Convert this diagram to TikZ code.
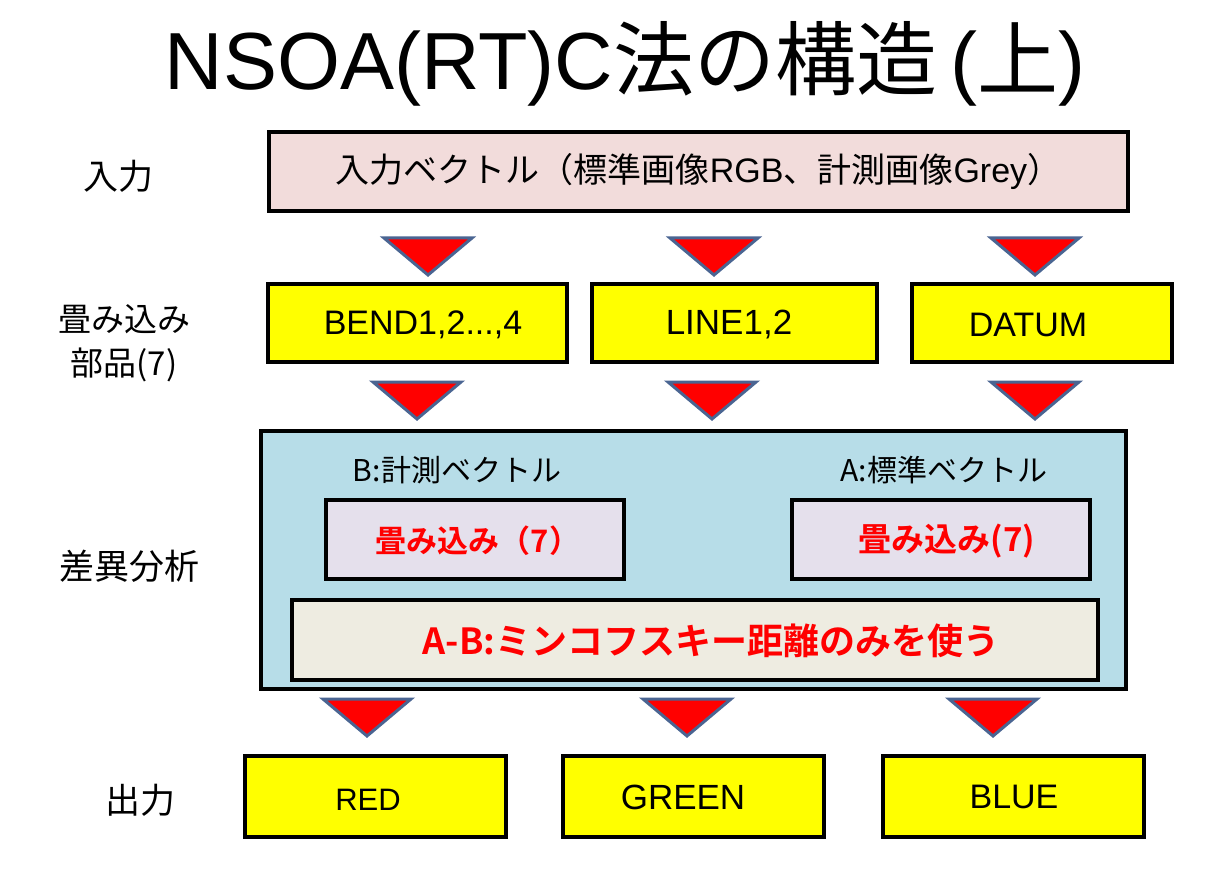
\documentclass[tikz,border=0pt]{standalone}
\usepackage{fontspec}
\setmainfont{Noto Sans CJK JP}
\newfontfamily\jpbold{Noto Sans CJK JP Bold}
\newfontfamily\lat{Liberation Sans}
\definecolor{pinkbg}{HTML}{F2DCDB}
\definecolor{partyellow}{HTML}{FFFF00}
\definecolor{outerblue}{HTML}{B7DDE8}
\definecolor{lavender}{HTML}{E5E0EC}
\definecolor{beige}{HTML}{EEECE1}
\definecolor{triedge}{HTML}{4A6592}
\begin{document}
\begin{tikzpicture}[x=1pt,y=-1pt,
  box/.style={draw=black, line width=4pt, inner sep=0pt, align=center},
  part/.style={box, fill=partyellow, minimum height=78pt},
  outbox/.style={box, fill=partyellow, minimum width=261pt, minimum height=81pt},
  boxtext/.style={inner sep=0pt, font=\lat\fontsize{34}{40}\selectfont},
  rowlabel/.style={font=\fontsize{35}{44}\selectfont, align=center},
  sublabel/.style={font=\fontsize{30}{36}\selectfont},
  redtext/.style={text=red, font=\jpbold\fontsize{31}{36}\selectfont},
  downtri/.pic={\filldraw[fill=red, draw=triedge, line width=3pt, line join=miter]
     (-44,0) -- (44,0) -- (0,37) -- cycle;}]
\useasboundingbox (0,0) rectangle (1205,877);
\fill[white] (0,0) rectangle (1205,877);

% title
\node[inner sep=0pt] (title) at (625,64)
  {\fontsize{81}{92}\selectfont{\lat NSOA(RT)C}法の構造{\lat\,(}上{\lat)}};

% row labels
\node[rowlabel] (lin) at (118,176) {入力};
\node[rowlabel, font=\fontsize{33}{44}\selectfont] (lparts) at (124,343) {畳み込み\\部品(7)};
\node[rowlabel] (ldiff) at (129,566) {差異分析};
\node[rowlabel] (lout) at (140,800) {出力};

% input vector
\node[box, fill=pinkbg, minimum width=859pt, minimum height=79pt,
      font=\fontsize{34}{40}\selectfont] (inp) at (698.5,171.5)
  {入力ベクトル（標準画像{\lat RGB}、計測画像{\lat Grey}）};

% convolution parts
\node[part, minimum width=299pt] (bend) at (417.5,323) {};
\node[boxtext] (bendt) at (423,325) {BEND1,2...,4};
\node[part, minimum width=285pt] (line) at (734.5,323) {};
\node[boxtext, font=\lat\fontsize{35}{40}\selectfont] (linet) at (729,325) {LINE1,2};
\node[part, minimum width=260pt] (datum) at (1042,323) {};
\node[boxtext] (datumt) at (1028,325) {DATUM};

% difference analysis
\node[box, fill=outerblue, minimum width=865pt, minimum height=258pt] (diff) at (693.5,560) {};
\node[sublabel] (blab) at (457,470) {B:計測ベクトル};
\node[sublabel] (alab) at (944,470) {A:標準ベクトル};
\node[box, fill=lavender, minimum width=298pt, minimum height=79pt, redtext] (convb) at (475,539.5) {};
\node[redtext, inner sep=0pt] (convbt) at (478,541) {畳み込み（7）};
\node[box, fill=lavender, minimum width=298pt, minimum height=79pt] (conva) at (941,539.5) {};
\node[redtext, inner sep=0pt, font=\jpbold\fontsize{33}{38}\selectfont] (convat) at (947,541) {畳み込み(7)};
\node[box, fill=beige, minimum width=806pt, minimum height=80pt] (mink) at (695,640) {};
\node[inner sep=0pt, text=red, font=\jpbold\fontsize{36}{42}\selectfont] (minkt) at (711,641)
  {A-B:ミンコフスキー距離のみを使う};

% outputs
\node[outbox] (red) at (375.5,796.5) {};
\node[boxtext, font=\lat\fontsize{31}{36}\selectfont] (redt) at (368,800) {RED};
\node[outbox] (green) at (693.5,796.5) {};
\node[boxtext, font=\lat\fontsize{35}{40}\selectfont] (greent) at (683,797) {GREEN};
\node[outbox] (blue) at (1013,796.5) {};
\node[boxtext] (bluet) at (1014,797) {BLUE};

% flow markers
\pic at (428,238) {downtri};
\pic at (714,238) {downtri};
\pic at (1035,238) {downtri};
\pic at (417,382) {downtri};
\pic at (712,382) {downtri};
\pic at (1035,382) {downtri};
\pic at (367,699) {downtri};
\pic at (687,699) {downtri};
\pic at (993,699) {downtri};
\end{tikzpicture}
\end{document}
